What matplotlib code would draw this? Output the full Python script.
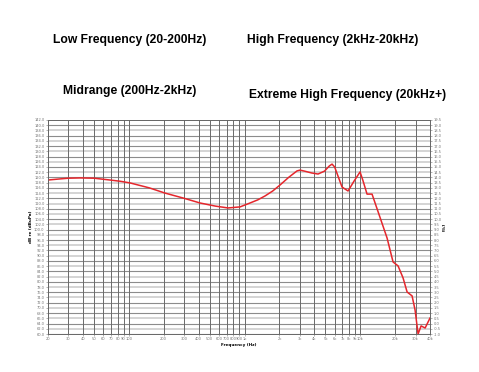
import numpy as np
import matplotlib
matplotlib.use('Agg')
import matplotlib.pyplot as plt
from matplotlib.ticker import FixedLocator, NullLocator

# frequency response
freq = [20, 25, 30, 37.8, 50, 68.7, 85, 102, 150, 205, 300, 412, 560, 719, 913,
        1114, 1300, 1502, 1750, 2024, 2400, 2838, 3014, 3300, 3800, 4312, 4900,
        5400, 5698, 6000, 6950, 7832, 8800, 9948, 10500, 11430, 12626, 17020,
        19180, 21180, 23400, 25360, 28000, 29720, 31560, 33500, 36300, 40000]
level = [119.0, 119.4, 119.7, 119.8, 119.7, 119.0, 118.5, 117.9, 116.0, 114.0,
         112.0, 110.2, 109.0, 108.3, 108.7, 110.2, 111.4, 112.9, 114.8, 117.1,
         120.0, 122.5, 122.8, 122.4, 121.7, 121.3, 122.4, 124.4, 125.1, 124.0,
         116.3, 114.8, 118.5, 122.1, 119.0, 113.6, 113.6, 96.8,
         87.6, 86.1, 81.5, 76.1, 74.6, 69.2, 60.0, 63.1, 62.3, 66.1]

x_ticks = [20, 30, 40, 50, 60, 70, 80, 90, 100, 200, 300, 400, 500, 600, 700,
           800, 900, 1000, 2000, 3000, 4000, 5000, 6000, 7000, 8000, 9000,
           10000, 20000, 30000, 40000]
x_labels = ['20', '30', '40', '50', '60', '70', '80', '90', '100', '200', '300',
            '400', '500', '600', '700', '800', '900', '1k', '2k', '3k', '4k',
            '5k', '6k', '7k', '8k', '9k', '10k', '20k', '30k', '40k']
left_ticks = list(np.arange(60, 143, 2))
right_ticks = list(np.arange(-1.0, 19.6, 0.5))

titles = [('Low Frequency (20-200Hz)', 130, 40),
          ('High Frequency (2kHz-20kHz)', 333, 40),
          ('Midrange (200Hz-2kHz)', 130, 91),
          ('Extreme High Frequency (20kHz+)', 348, 95)]

W, H = 479, 372
fig = plt.figure(figsize=(W / 100, H / 100), dpi=100)
ax = fig.add_axes([48 / W, 1 - 334 / H, (430 - 48) / W, (334 - 120) / H])

for t, x, y in titles:
    fig.text(x / W, 1 - y / H, t, ha='center', va='center', fontsize=8.7,
             fontweight='bold', family='Liberation Sans')

ax.set_xscale('log')
ax.set_xlim(20, 40000)
ax.set_ylim(60, 142)

for i, v in enumerate(left_ticks):
    ax.axhline(v, color='#8c8c8c' if i % 2 == 0 else '#d4d4d4',
               lw=0.8 if i % 2 == 0 else 1.4, zorder=1)
for f in x_ticks:
    ax.axvline(f, color='#6a6a6a', lw=0.7, zorder=1)

ax.plot(freq, level, color='#e5262c', lw=1.1, zorder=3)

ax.xaxis.set_major_locator(FixedLocator(x_ticks))
ax.xaxis.set_minor_locator(NullLocator())
ax.set_xticklabels(x_labels)
ax.set_yticks(left_ticks)
ax.set_yticklabels(['%.1f' % v for v in left_ticks])
ax.tick_params(labelsize=2.6, length=1.5, width=0.4, colors='#777777', pad=1)
ax.set_xlabel('Frequency (Hz)', fontsize=3, fontweight='bold', labelpad=1)
ax.set_ylabel('dB re (dBuPa)', fontsize=3, fontweight='bold', labelpad=1)

ax2 = ax.twinx()
ax2.set_ylim(-1.0, 19.5)
ax2.set_yticks(right_ticks)
ax2.set_yticklabels(['%.1f' % v for v in right_ticks])
ax2.tick_params(labelsize=2.6, length=1.5, width=0.4, colors='#777777', pad=1)
ax2.set_ylabel('[%]', fontsize=3, fontweight='bold', labelpad=1)

for a in (ax, ax2):
    for s in a.spines.values():
        s.set_color('#666666')
        s.set_linewidth(0.6)

fig.savefig('out.png', dpi=100)
